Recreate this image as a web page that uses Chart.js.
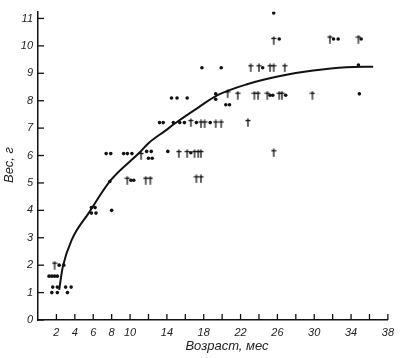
<!DOCTYPE html>
<html><head><meta charset="utf-8">
<script src="https://cdn.jsdelivr.net/npm/chart.js@4/dist/chart.umd.min.js"></script>
<style>html,body{margin:0;padding:0;background:#fff}#wrap{width:400px;height:358px}</style>
</head><body><div id="wrap"><canvas id="c" width="400" height="358"></canvas></div>
<script>
const xTitle = "Возраст, мес";
const yTitle = "Вес, г";
const xTickValues = [2,4,6,8,10,12,14,16,18,20,22,24,26,28,30,32,34,36,38];
const xTickLabels = [2,4,6,8,10,14,18,22,26,30,34,38];
const yTickValues = [0,1,2,3,4,5,6,7,8,9,10,11];

const dotX = [1.2,1.5,1.8,2.1, 1.6,2.1,3.0,3.6, 1.5,2.1,3.2, 2.3,2.8,
  5.8,6.2,5.8,6.3,8.0, 7.8,10.1,10.4,
  7.4,7.9,9.3,9.7,10.2,11.8,12.3,12.0,12.4,14.1,16.6,
  13.2,13.6,14.7,15.4,15.9,17.2,18.7,
  14.5,15.1,16.2, 17.8,19.9, 19.3,19.3,20.4,20.8,
  24.4,25.2,25.5,26.9,34.9,34.8,
  26.2,32.1,32.6,35.1, 25.6];
const dotY = [1.6,1.6,1.6,1.6, 1.2,1.2,1.2,1.2, 1.0,1.0,1.0, 2.0,2.0,
  4.1,4.1,3.9,3.9,4.0, 5.05,5.1,5.1,
  6.07,6.07,6.07,6.07,6.07,6.15,6.15,5.9,5.9,6.15,6.1,
  7.2,7.2,7.2,7.2,7.2,7.2,7.2,
  8.1,8.1,8.1, 9.2,9.2, 8.25,8.05,7.85,7.85,
  9.2,8.2,8.2,8.2,8.25,9.3,
  10.25,10.25,10.25,10.25, 11.2];

const daggerX = [1.8, 9.7,11.7,12.2,17.2,17.7,
  11.2,15.3,16.2,17.0,17.4,17.7,25.6,
  16.6,17.7,18.1,19.3,19.9,22.8,
  20.6,21.7,23.5,23.9,24.9,26.2,26.5,29.8,
  23.1,24.0,25.2,25.6,26.8,
  25.6,31.7,34.8];
const daggerY = [2.0, 5.1,5.1,5.1,5.15,5.15,
  6.0,6.07,6.07,6.07,6.07,6.07,6.1,
  7.2,7.15,7.15,7.15,7.15,7.2,
  8.25,8.2,8.2,8.2,8.2,8.2,8.2,8.2,
  9.2,9.2,9.2,9.2,9.2,
  10.2,10.25,10.25];

const curveX = [2.3,2.7,3.7,5.5,7.9,11.0,12.0,13.8,15.2,17.4,19.5,22.7,26.3,29.9,33.5,36.4];
const curveY = [1.1,1.95,2.95,3.9,5.1,6.1,6.45,6.9,7.25,7.75,8.2,8.6,8.9,9.1,9.22,9.24];

const ink = '#111';
const zip = (a,b)=>a.map((v,i)=>({x:v,y:b[i]}));

// dagger marker
const dg = document.createElement('canvas');
dg.width = 6; dg.height = 9;
(function(){
  const g = dg.getContext('2d');
  g.strokeStyle = ink; g.lineWidth = 1.3;
  g.beginPath(); g.moveTo(3,0.5); g.lineTo(3,8.8); g.stroke();
  g.beginPath(); g.moveTo(0.5,2.5); g.lineTo(5.5,2.5); g.stroke();
})();

const deco = {
  id:'deco',
  afterDraw(chart){
    const {ctx, scales:{x,y}} = chart;
    ctx.save();
    ctx.strokeStyle = ink; ctx.lineWidth = 1.3;
    const y0 = y.getPixelForValue(0), x0 = x.getPixelForValue(0);
    xTickValues.forEach(v=>{ const p = x.getPixelForValue(v);
      ctx.beginPath(); ctx.moveTo(p, y0); ctx.lineTo(p, y0-6); ctx.stroke(); });
    yTickValues.forEach(v=>{ const p = y.getPixelForValue(v);
      ctx.beginPath(); ctx.moveTo(x0, p); ctx.lineTo(x0+6, p); ctx.stroke(); });
    ctx.fillStyle = '#222';
    ctx.font = 'italic 13px "Liberation Sans"';
    ctx.textAlign = 'center'; ctx.textBaseline = 'middle';
    ctx.fillText(xTitle, 227, 346);
    ctx.translate(9, 165); ctx.rotate(-Math.PI/2);
    ctx.fillText(yTitle, 0, 0);
    ctx.restore();
  }
};

new Chart(document.getElementById('c'), {
  type:'scatter',
  data:{ datasets:[
    { data: zip(curveX, curveY), showLine:true, borderColor:ink, borderWidth:2,
      pointRadius:0, cubicInterpolationMode:'monotone', fill:false },
    { data: zip(dotX, dotY), pointStyle:'circle', pointRadius:1.8,
      backgroundColor:ink, borderColor:ink, borderWidth:0 },
    { data: zip(daggerX, daggerY), pointStyle: dg, pointRadius:4.5 }
  ]},
  options:{
    responsive:false, animation:false,
    layout:{ padding:{ top:10, right:5, left:0, bottom:0 } },
    plugins:{ legend:{display:false}, tooltip:{enabled:false} },
    scales:{
      x:{ type:'linear', min:0, max:38,
        afterBuildTicks(s){ s.ticks = xTickValues.map(v=>({value:v})); },
        afterFit(s){ s.height = 38; },
        grid:{ drawOnChartArea:false, drawTicks:false },
        border:{ display:true, color:ink, width:1.5 },
        ticks:{ autoSkip:false, maxRotation:0, padding:6, color:'#222',
          font:{ family:'Liberation Sans', style:'italic', size:11 },
          callback:(v)=> xTickLabels.includes(v) ? String(v) : '' }
      },
      y:{ type:'linear', min:0, max:11.25,
        afterBuildTicks(s){ s.ticks = yTickValues.map(v=>({value:v})); },
        afterFit(s){ s.width = 38; },
        grid:{ drawOnChartArea:false, drawTicks:false },
        border:{ display:true, color:ink, width:1.5 },
        ticks:{ padding:5, color:'#222',
          font:{ family:'Liberation Sans', style:'italic', size:11 } }
      }
    }
  },
  plugins:[deco]
});
</script></body></html>
